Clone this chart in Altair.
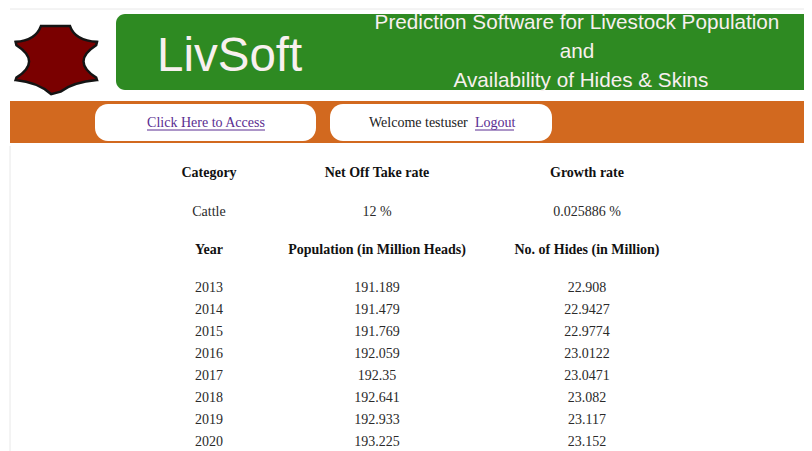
import altair as alt
import pandas as pd

# ---------------- data ----------------
years = [2013, 2014, 2015, 2016, 2017, 2018, 2019, 2020]
population = [191.189, 191.479, 191.769, 192.059, 192.35, 192.641, 192.933, 193.225]
hides = [22.908, 22.9427, 22.9774, 23.0122, 23.0471, 23.082, 23.117, 23.152]
info_header = ["Category", "Net Off Take rate", "Growth rate"]
info_values = ["Cattle", "12 %", "0.025886 %"]
table_header = ["Year", "Population (in Million Heads)", "No. of Hides (in Million)"]
app_name = "LivSoft"
app_title = ["Prediction Software for Livestock Population", "and", "Availability of Hides & Skins"]
nav_link = "Click Here to Access"
welcome = "Welcome testuser"
logout = "Logout"

# ---------------- layout (page pixels) ----------------
M = 8                # page margin
X_END, Y_END = 804, 451
col_x = [209, 377, 587]
row_y = {"info_head": 173, "info_val": 212, "tab_head": 250}
first_row_y, row_step = 288, 22

GREEN = "#2e8a22"
ORANGE = "#d2691f"
LIGHT = "#f8f0ef"
PURPLE = "#5a2d91"
SERIF = "Liberation Serif"
SANS = "Liberation Sans"

xs = alt.Scale(domain=[M, X_END], nice=False, zero=False)
ys = alt.Scale(domain=[Y_END, M], nice=False, zero=False)


def rect_layer(df, **kw):
    return alt.Chart(df).mark_rect(**kw).encode(
        x=alt.X("x:Q", scale=xs, axis=None), x2="x2:Q",
        y=alt.Y("y:Q", scale=ys, axis=None), y2="y2:Q")


def text_layer(df, **kw):
    return alt.Chart(df).mark_text(**kw).encode(
        x=alt.X("x:Q", scale=xs, axis=None),
        y=alt.Y("y:Q", scale=ys, axis=None),
        text="t:N")


def rule_layer(df, **kw):
    return alt.Chart(df).mark_rule(**kw).encode(
        x=alt.X("x:Q", scale=xs, axis=None), x2="x2:Q",
        y=alt.Y("y:Q", scale=ys, axis=None), y2="y2:Q")


layers = []

# faint page frame lines
layers.append(rule_layer(pd.DataFrame({"x": [10, 10], "x2": [804, 10], "y": [9, 146], "y2": [9, 451]}),
                         color="#e8e8e8", strokeWidth=1))

# green banner
layers.append(rect_layer(pd.DataFrame({"x": [116], "x2": [830], "y": [14], "y2": [90]}),
                         color=GREEN, cornerRadius=9, clip=True))

# orange nav band
layers.append(rect_layer(pd.DataFrame({"x": [10], "x2": [820], "y": [101], "y2": [143]}),
                         color=ORANGE, clip=True))

# white nav boxes
layers.append(rect_layer(pd.DataFrame({"x": [95, 330], "x2": [316, 552], "y": [104, 104], "y2": [141, 141]}),
                         color="white", cornerRadius=13))

# logo (hide shape)
hide_path = ("M -0.37 -0.80 L 0.33 -0.80 Q 0.45 -0.45 0.98 -0.42 L 0.96 -0.34 "
             "Q 0.35 0.05 0.96 0.44 L 0.98 0.50 Q 0.40 0.55 0.10 0.78 L -0.12 0.84 "
             "Q -0.45 0.55 -0.98 0.50 L -0.96 0.44 Q -0.35 0.05 -0.96 -0.34 "
             "L -0.98 -0.42 Q -0.50 -0.45 -0.37 -0.80 Z")
layers.append(alt.Chart(pd.DataFrame({"x": [56.3], "y": [59.3]})).mark_point(
    shape=hide_path, filled=True, fill="#7a0000", stroke="#141414", strokeWidth=2.5,
    size=6900, opacity=1).encode(
    x=alt.X("x:Q", scale=xs, axis=None), y=alt.Y("y:Q", scale=ys, axis=None)))

# app name
layers.append(text_layer(pd.DataFrame({"x": [157], "y": [71], "t": [app_name]}),
                         align="left", baseline="alphabetic", font=SANS, fontSize=47.5, color=LIGHT))

# app title lines
layers.append(text_layer(pd.DataFrame({"x": [577, 577, 581], "y": [29, 58, 87], "t": app_title}),
                         align="center", baseline="alphabetic", font=SANS, fontSize=20.7, color=LIGHT))

# nav texts
layers.append(text_layer(pd.DataFrame({"x": [206], "y": [123], "t": [nav_link]}),
                         align="center", baseline="middle", font=SERIF, fontSize=14, color=PURPLE))
layers.append(text_layer(pd.DataFrame({"x": [369], "y": [123], "t": [welcome]}),
                         align="left", baseline="middle", font=SERIF, fontSize=14, color="#222222"))
layers.append(text_layer(pd.DataFrame({"x": [475], "y": [123], "t": [logout]}),
                         align="left", baseline="middle", font=SERIF, fontSize=14, color=PURPLE))
# underlines
layers.append(rule_layer(pd.DataFrame({"x": [147, 475], "x2": [265, 514], "y": [130, 130], "y2": [130, 130]}),
                         color=PURPLE, strokeWidth=1))

# table headers (bold)
head_rows = []
for i, t in enumerate(info_header):
    head_rows.append({"x": col_x[i], "y": row_y["info_head"], "t": t})
for i, t in enumerate(table_header):
    head_rows.append({"x": col_x[i], "y": row_y["tab_head"], "t": t})
layers.append(text_layer(pd.DataFrame(head_rows), align="center", baseline="middle",
                         font=SERIF, fontSize=14, fontWeight="bold", color="#111111"))

# table body
body_rows = []
for i, t in enumerate(info_values):
    body_rows.append({"x": col_x[i], "y": row_y["info_val"], "t": t})
for r, (yr, p, h) in enumerate(zip(years, population, hides)):
    yy = first_row_y + r * row_step
    body_rows.append({"x": col_x[0], "y": yy, "t": str(yr)})
    body_rows.append({"x": col_x[1], "y": yy, "t": str(p)})
    body_rows.append({"x": col_x[2], "y": yy, "t": str(h)})
layers.append(text_layer(pd.DataFrame(body_rows), align="center", baseline="middle",
                         font=SERIF, fontSize=14, color="#2a2a2a"))

chart = alt.layer(*layers).properties(
    width=X_END - M, height=Y_END - M, padding=0, autosize=alt.AutoSizeParams(type="none"),
    background="white"
).configure_view(strokeWidth=0)

chart.save("out.html", embed_options={"renderer": "svg", "actions": False})
